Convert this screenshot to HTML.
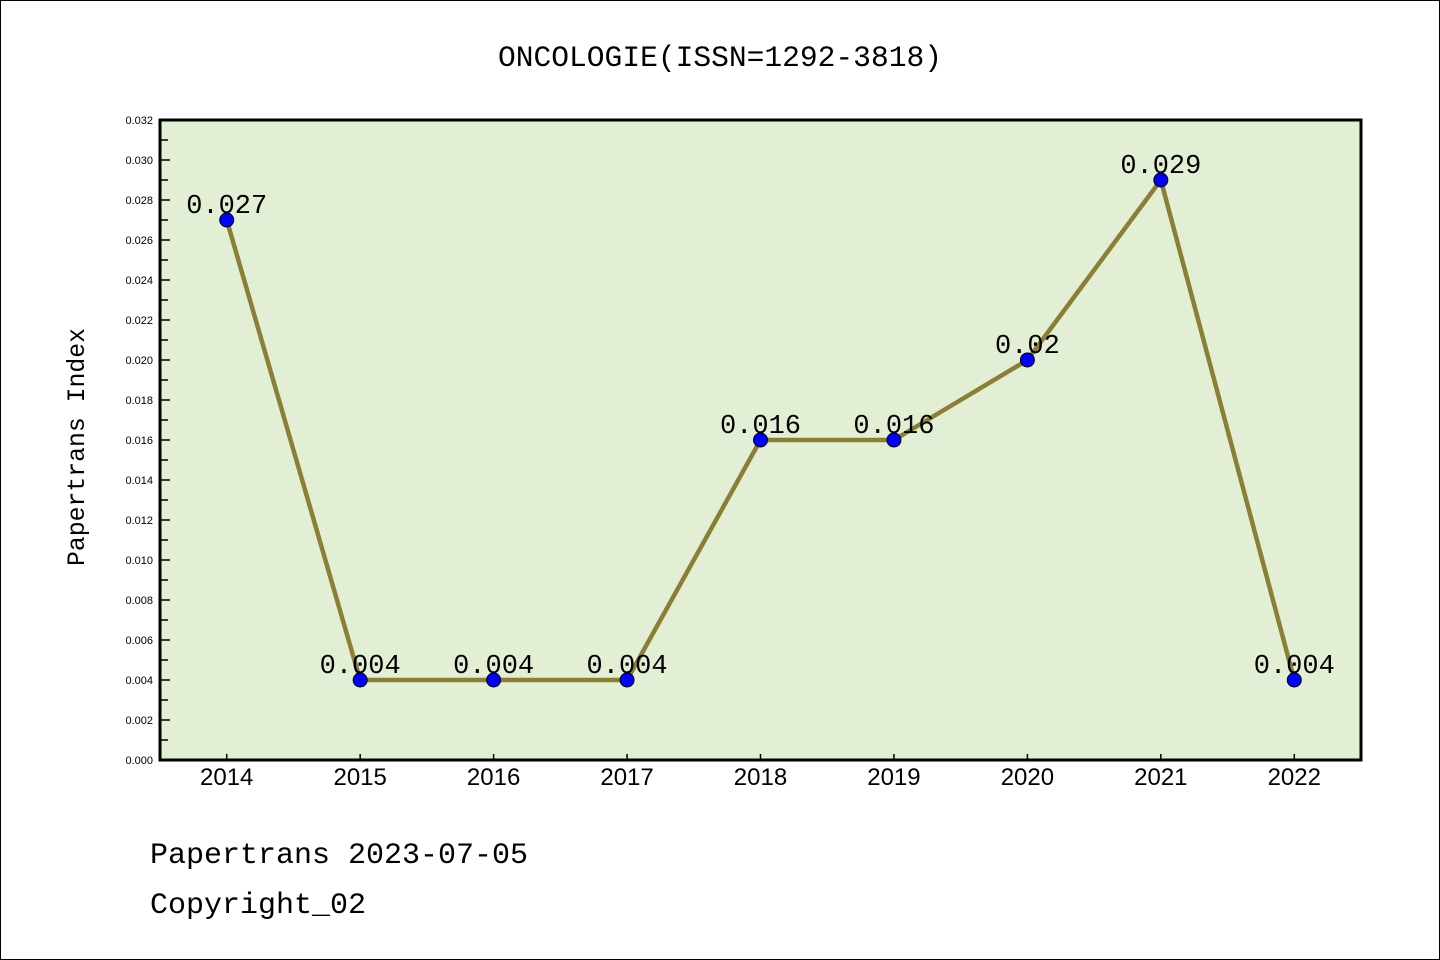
<!DOCTYPE html>
<html><head><meta charset="utf-8"><style>
html,body{margin:0;padding:0;background:#fff}
svg{display:block}
.t{font-family:"Liberation Mono",monospace}
.s{font-family:"Liberation Sans","DejaVu Sans",sans-serif}
</style></head><body>
<svg id="c" width="1440" height="960" xmlns="http://www.w3.org/2000/svg">
<rect x="0.5" y="0.5" width="1439" height="959" fill="#fff" stroke="#000"/>
<text class="t" x="720" y="66" font-size="29.6" text-anchor="middle">ONCOLOGIE(ISSN=1292-3818)</text>
<rect x="160" y="120" width="1201" height="640" fill="#e2efd5"/>
<g id="yaxis"></g>
<g id="xaxis"></g>
<text class="t" transform="translate(84,447) rotate(-90)" font-size="24.8" text-anchor="middle">Papertrans Index</text>
<g id="series"></g>
<rect x="160" y="120" width="1201" height="640" fill="none" stroke="#000" stroke-width="3"/>
<text class="t" x="150" y="863" font-size="30">Papertrans 2023-07-05</text>
<text class="t" x="150" y="913" font-size="30">Copyright_02</text>
</svg>
<script>
const years=[2014,2015,2016,2017,2018,2019,2020,2021,2022];
const values=[0.027,0.004,0.004,0.004,0.016,0.016,0.020,0.029,0.004];
const labels=["0.027","0.004","0.004","0.004","0.016","0.016","0.02","0.029","0.004"];
const yTicks=[0,0.002,0.004,0.006,0.008,0.010,0.012,0.014,0.016,0.018,0.020,0.022,0.024,0.026,0.028,0.030,0.032];
const NS="http://www.w3.org/2000/svg";
const X0=160,X1=1361,Y0=760,Y1=120,YMAX=0.032;
const xs=i=>X0+(i+0.5)*(X1-X0)/years.length;
const ys=v=>Y0-v/YMAX*(Y0-Y1);
function mk(t,a,p){const e=document.createElementNS(NS,t);for(const k in a)e.setAttribute(k,a[k]);p.appendChild(e);return e;}
const ya=document.getElementById('yaxis'),xa=document.getElementById('xaxis'),se=document.getElementById('series');
yTicks.forEach((v,i)=>{
  const y=ys(v);
  const l=mk('line',{x1:X0,x2:X0+10,y1:y,y2:y,stroke:'#000','stroke-width':1.5},ya);
  
  
  if(i<yTicks.length-1){const m=mk('line',{x1:X0,x2:X0+8,y1:ys(v+0.001),y2:ys(v+0.001),stroke:'#000','stroke-width':1.5},ya);
  
  }
  const t=mk('text',{x:X0-7,y:y+4,'font-size':11,'text-anchor':'end',class:'s'},ya);
  t.textContent=v.toFixed(3);
  
  
});
years.forEach((yr,i)=>{
  const x=xs(i);
  const l=mk('line',{x1:x,x2:x,y1:Y0,y2:Y0-6,stroke:'#000','stroke-width':1.5},xa);
  
  
  const t=mk('text',{x:x,y:Y0+25,'font-size':24,'text-anchor':'middle',class:'s'},xa);
  t.textContent=yr;
  
  
});
const pl=mk('polyline',{points:values.map((v,i)=>xs(i)+','+ys(v)).join(' '),fill:'none',stroke:'#8b7f35','stroke-width':4.5,'stroke-linejoin':'round'},se);


values.forEach((v,i)=>{
  const c=mk('circle',{cx:xs(i),cy:ys(v),r:7,fill:'#0000ff',stroke:'#000','stroke-width':1},se);
  
  
});
values.forEach((v,i)=>{
  const t=mk('text',{x:xs(i),y:ys(v)-7,'font-size':27,'text-anchor':'middle',class:'t'},se);
  t.textContent=labels[i];
  
  
});
</script>
</body></html>
